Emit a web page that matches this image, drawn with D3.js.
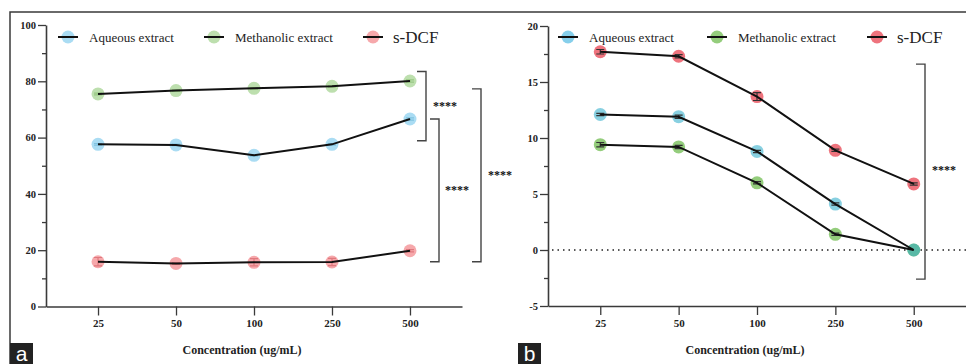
<!DOCTYPE html>
<html>
<head>
<meta charset="utf-8">
<script src="https://cdn.jsdelivr.net/npm/d3@7"></script>
<style>
  body { margin: 0; background: #fff; }
  svg { display: block; }
  .tick text { font-family: "Liberation Serif", serif; font-weight: bold; fill: #222; }
</style>
</head>
<body>
<svg id="chart" width="966" height="364"></svg>
<script>
// categories on the x axis
var concentrations = ["25", "50", "100", "250", "500"];
var seriesNames = ["Aqueous extract", "Methanolic extract", "s-DCF"];

// panel a values
var aAqueous = [57.6, 57.4, 53.7, 57.6, 66.6];
var aMethanolic = [75.5, 76.7, 77.5, 78.2, 80.1];
var aDCF = [15.9, 15.3, 15.7, 15.8, 19.8];
var aAqueousErr = [0.3, 0.3, 0.3, 0.3, 0.4];
var aMethanolicErr = [0.3, 0.3, 0.3, 0.3, 0.4];
var aDCFErr = [1.5, 0.3, 1.3, 1.3, 0.4];
var aTicks = [0, 20, 40, 60, 80, 100];

// panel b values
var bAqueous = [12.1, 11.9, 8.8, 4.1, 0];
var bMethanolic = [9.4, 9.2, 6.0, 1.4, 0];
var bDCF = [17.7, 17.3, 13.7, 8.9, 5.9];
var bAqueousErr = [0.1, 0.15, 0.1, 0.1, 0];
var bMethanolicErr = [0.2, 0.15, 0.1, 0.1, 0];
var bDCFErr = [0.2, 0.15, 0.35, 0.1, 0.1];
var bTicks = [-5, 0, 5, 10, 15, 20];

var svg = d3.select("#chart");

// outer frame (top and left only, the picture is cropped on the right)
svg.append("path")
  .attr("d", "M10,364 V12 H966")
  .attr("fill", "none").attr("stroke", "#3a3a3a").attr("stroke-width", 1.5);

function drawPanel(opt) {
  var x = d3.scalePoint().domain(concentrations).range(opt.xRange).padding(0.667);
  var y = d3.scaleLinear().domain(opt.yDomain).range(opt.yRange);
  var g = svg.append("g");

  // minor y ticks
  g.append("g")
    .attr("transform", "translate(" + opt.xRange[0] + ",0)")
    .call(d3.axisLeft(y).tickValues(opt.minor).tickSize(4).tickFormat(""))
    .call(function (s) { s.select(".domain").remove(); s.selectAll("line").attr("stroke", "#3a3a3a").attr("stroke-width", 1.3); });

  var ya = g.append("g")
    .attr("transform", "translate(" + opt.xRange[0] + ",0)")
    .call(d3.axisLeft(y).tickValues(opt.ticks).tickSize(8).tickSizeOuter(0).tickPadding(2)
      .tickFormat(function (d) { return String(d); }));
  ya.selectAll("text").style("font-size", "10.5px");

  var xa = g.append("g")
    .attr("transform", "translate(0," + opt.yRange[0] + ")")
    .call(d3.axisBottom(x).tickSize(9).tickSizeOuter(0).tickPadding(4));
  xa.selectAll("text").style("font-size", "11px");

  [ya, xa].forEach(function (a) {
    a.select(".domain").attr("stroke", "#3a3a3a").attr("stroke-width", 1.6);
    a.selectAll(".tick line").attr("stroke", "#3a3a3a").attr("stroke-width", 1.3);
  });

  if (opt.zeroLine) {
    g.append("line")
      .attr("x1", opt.xRange[0] + 4).attr("x2", opt.xRange[1])
      .attr("y1", y(0)).attr("y2", y(0))
      .attr("stroke", "#222").attr("stroke-width", 1.5)
      .attr("stroke-dasharray", "1.5,4");
  }

  // markers (drawn in opt.order), then error bars, then black lines on top
  opt.order.forEach(function (k) {
    var s = opt.series[k];
    g.selectAll(null).data(s.values).enter().append("circle")
      .attr("cx", function (d, i) { return x(concentrations[i]); })
      .attr("cy", function (d) { return y(d); })
      .attr("r", 6.5)
      .attr("fill", s.color)
      .attr("fill-opacity", s.opacity || 1);
  });
  opt.series.forEach(function (s) {
    s.values.forEach(function (v, i) {
      var e = s.err[i];
      if (!e) return;
      var cx = x(concentrations[i]);
      var path = d3.path();
      path.moveTo(cx, y(v - e)); path.lineTo(cx, y(v + e));
      path.moveTo(cx - 4, y(v + e)); path.lineTo(cx + 4, y(v + e));
      path.moveTo(cx - 4, y(v - e)); path.lineTo(cx + 4, y(v - e));
      g.append("path").attr("d", path.toString())
        .attr("stroke", s.errColor).attr("stroke-width", 1.2).attr("fill", "none");
    });
  });
  var line = d3.line()
    .x(function (d, i) { return x(concentrations[i]); })
    .y(function (d) { return y(d); });
  opt.series.forEach(function (s) {
    g.append("path").datum(s.values)
      .attr("d", line)
      .attr("fill", "none").attr("stroke", "#111").attr("stroke-width", 2);
  });

  // legend
  opt.series.forEach(function (s, i) {
    var lx = opt.legendX[i];
    var lg = g.append("g").attr("transform", "translate(" + lx + ",37)");
    lg.append("circle").attr("r", 6.5).attr("fill", s.legendColor || s.color);
    lg.append("line").attr("x1", -10).attr("x2", 10).attr("stroke", "#111").attr("stroke-width", 2);
    lg.append("text").attr("x", i === 2 ? 20 : 21).attr("y", i === 2 ? 6 : 5)
      .style("font-family", "Liberation Serif, serif")
      .style("font-size", i === 2 ? "17px" : "13px")
      .attr("fill", "#222")
      .text(seriesNames[i]);
  });

  // significance brackets
  opt.brackets.forEach(function (b) {
    g.append("path")
      .attr("d", "M" + (b.x - 9) + "," + y(b.top) + " H" + b.x + " V" + y(b.bottom) + " H" + (b.x - 9))
      .attr("fill", "none").attr("stroke", "#444").attr("stroke-width", 1.4);
    g.append("text")
      .attr("x", b.x + b.dx).attr("y", y((b.top + b.bottom) / 2) + b.dy)
      .style("font-family", "Liberation Serif, serif").style("font-weight", "bold").style("font-size", "12px")
      .attr("fill", "#111")
      .text("****");
  });

  // axis title
  g.append("text")
    .attr("x", (x(concentrations[0]) + x(concentrations[4])) / 2 - 12)
    .attr("y", 354)
    .attr("text-anchor", "middle")
    .style("font-family", "Liberation Serif, serif").style("font-weight", "bold").style("font-size", "12px")
    .attr("fill", "#222")
    .text("Concentration (ug/mL)");

  // panel letter
  g.append("rect").attr("x", opt.letterX).attr("y", 343).attr("width", 23).attr("height", 21).attr("fill", "#222");
  g.append("text")
    .attr("x", opt.letterX + 11.5).attr("y", 361)
    .attr("text-anchor", "middle")
    .style("font-family", "Liberation Sans, sans-serif").style("font-size", "21px")
    .attr("fill", "#fff")
    .text(opt.letter);
}

drawPanel({
  xRange: [46, 462],
  yDomain: [0, 100], yRange: [306.5, 25],
  ticks: aTicks, minor: [10, 30, 50, 70, 90],
  series: [
    { values: aAqueous, err: aAqueousErr, color: "#aadcf3", errColor: "#7fc2e0" },
    { values: aMethanolic, err: aMethanolicErr, color: "#bddfae", errColor: "#98c883" },
    { values: aDCF, err: aDCFErr, color: "#f6a8ab", errColor: "#e0787e" }
  ],
  order: [0, 1, 2],
  legendX: [68, 214, 373],
  brackets: [
    { x: 426, top: 83.5, bottom: 58.9, dx: 7, dy: 4 },
    { x: 439, top: 66.6, bottom: 15.9, dx: 6, dy: 4 },
    { x: 481, top: 77.3, bottom: 15.9, dx: 7, dy: 4 }
  ],
  letterX: 10, letter: "a"
});

drawPanel({
  xRange: [548, 966],
  yDomain: [-5, 20], yRange: [306, 26],
  ticks: bTicks, minor: [-2.5, 2.5, 7.5, 12.5, 17.5],
  zeroLine: true,
  series: [
    { values: bAqueous, err: bAqueousErr, color: "#27a9c8", opacity: 0.55, legendColor: "#86cfeb", errColor: "#333" },
    { values: bMethanolic, err: bMethanolicErr, color: "#94cd7c", errColor: "#333" },
    { values: bDCF, err: bDCFErr, color: "#ee737d", errColor: "#333" }
  ],
  order: [1, 0, 2],
  legendX: [568, 717, 877],
  brackets: [
    { x: 925, top: 16.6, bottom: -2.6, dx: 7, dy: 2 }
  ],
  letterX: 518, letter: "b"
});
</script>
</body>
</html>
